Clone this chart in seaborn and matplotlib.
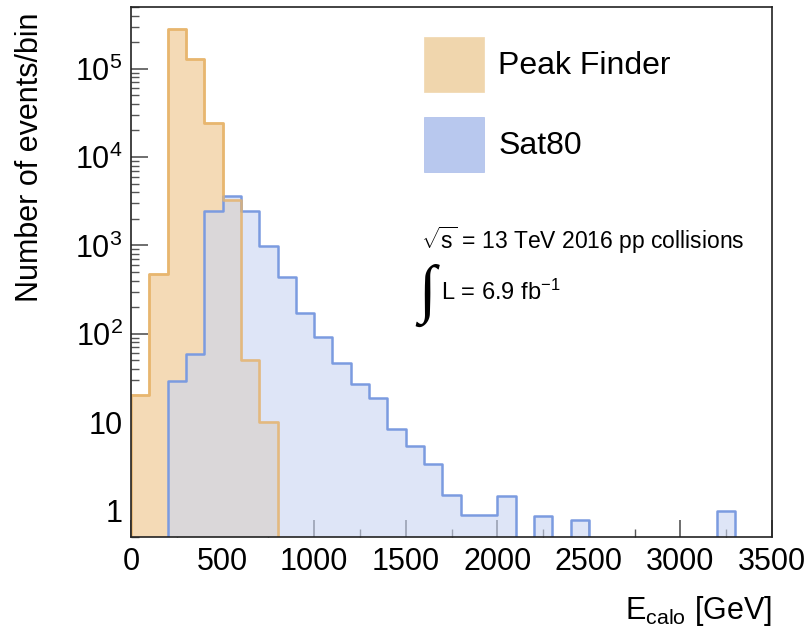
import numpy as np
import pandas as pd
import matplotlib
matplotlib.use("Agg")
import matplotlib.pyplot as plt
from matplotlib.ticker import FixedLocator, FuncFormatter, MultipleLocator
from matplotlib.patches import Patch
import seaborn as sns

# ---- data (events per 100 GeV bin) ----
bin_edges = list(range(0, 3600, 100))
peak_finder = [20, 470, 2.8e5, 1.3e5, 2.4e4, 3300, 50, 10, 0, 0,
               0, 0, 0, 0, 0, 0, 0, 0, 0, 0,
               0, 0, 0, 0, 0, 0, 0, 0, 0, 0,
               0, 0, 0, 0, 0]
sat80 = [0, 0, 29, 59, 2470, 3580, 2450, 980, 440, 170,
         92, 46.5, 27, 18.6, 8.3, 5.3, 3.35, 1.5, 0.88, 0.88,
         1.46, 0, 0.87, 0, 0.78, 0, 0, 0, 0, 0,
         0, 0, 0.99, 0, 0]
series_labels = ["Peak Finder", "Sat80"]
x_ticks = [0, 500, 1000, 1500, 2000, 2500, 3000, 3500]
y_ticks = [1, 10, 100, 1000, 1e4, 1e5]

sns.set_theme(style="white")
plt.rcParams["font.family"] = ["Liberation Sans", "DejaVu Sans"]
plt.rcParams["mathtext.fontset"] = "custom"
plt.rcParams["mathtext.rm"] = "Liberation Sans"
plt.rcParams["mathtext.it"] = "Liberation Sans:italic"
plt.rcParams["mathtext.bf"] = "Liberation Sans:bold"
plt.rcParams["text.color"] = "black"
plt.rcParams["axes.labelcolor"] = "black"

orange_face = "#f4dab6"
orange_edge = "#e8b66f"
blue_face = "#c9d5f2"
blue_edge = "#7b9be0"

fig = plt.figure(figsize=(8.11, 6.39), dpi=100)
ax = fig.add_axes([131 / 811, 1 - 537 / 639, 641 / 811, 530 / 639])

centers = [e + 50 for e in bin_edges[:-1]]
df_pf = pd.DataFrame({"E": centers, "w": peak_finder})
df_sat = pd.DataFrame({"E": centers, "w": sat80})

sns.histplot(data=df_pf, x="E", weights="w", bins=bin_edges, element="step",
             fill=True, facecolor=orange_face, edgecolor=orange_edge,
             linewidth=1.8, alpha=1, ax=ax, zorder=2)
sns.histplot(data=df_sat, x="E", weights="w", bins=bin_edges, element="step",
             fill=True, facecolor=blue_face + "99", edgecolor=blue_edge,
             linewidth=1.8, ax=ax, zorder=3)
# orange outline redrawn so it shows through the blue fill
sns.histplot(data=df_pf, x="E", weights="w", bins=bin_edges, element="step",
             fill=False, color=orange_edge, linewidth=1.8, alpha=0.8,
             ax=ax, zorder=3.5)

ax.set_yscale("log")
ax.set_xlim(0, 3500)
ax.set_ylim(0.5, 5e5)
ax.set_xlabel("")
ax.set_ylabel("")

ax.xaxis.set_major_locator(FixedLocator(x_ticks))
ax.xaxis.set_minor_locator(MultipleLocator(250))
ax.yaxis.set_major_locator(FixedLocator(y_ticks))
minors = [m * 10 ** e for e in range(-1, 6) for m in range(2, 10)]
ax.yaxis.set_minor_locator(FixedLocator(minors))


def yfmt(v, pos):
    if v == 1:
        return "1"
    if v == 10:
        return "10"
    return r"$10^{%d}$" % int(round(np.log10(v)))


ax.yaxis.set_major_formatter(FuncFormatter(yfmt))
ax.yaxis.set_minor_formatter(FuncFormatter(lambda v, p: ""))

ax.tick_params(axis="both", which="major", direction="in", length=12,
               width=1.2, labelsize=22, colors="#555555", labelcolor="black")
ax.tick_params(axis="both", which="minor", direction="in", length=6,
               width=1.0, colors="#555555")
ax.tick_params(axis="x", pad=7, bottom=True, top=False)
ax.tick_params(axis="y", pad=6, left=True, right=False)
ax.tick_params(axis="x", which="minor", bottom=True, top=False)
ax.tick_params(axis="y", which="minor", left=True, right=False)

for s in ax.spines.values():
    s.set_color("#222222")
    s.set_linewidth(1.2)
    s.set_zorder(5)

ax.set_ylabel("Number of events/bin", fontsize=22, loc="top", color="black")
ax.yaxis.set_label_coords(-0.134, 0.99)
ax.set_xlabel(r"E$_{\mathrm{calo}}$ [GeV]", fontsize=22, loc="right",
              color="black")
ax.xaxis.set_label_coords(1.0, -0.107)

ax.text(0.452, 0.560, r"$\sqrt{\mathrm{s}}$ = 13 TeV 2016 pp collisions",
        transform=ax.transAxes, fontsize=16.5, ha="left", va="center",
        color="black")
ax.text(0.462, 0.455, "\u222b", transform=ax.transAxes, fontsize=46,
        ha="center", va="center",
        family=["Liberation Serif", "DejaVu Sans"], color="black")
ax.text(0.484, 0.462, r"L = 6.9 fb$^{\mathregular{-1}}$",
        transform=ax.transAxes, fontsize=17, ha="left", va="center",
        color="black")

handles = [Patch(facecolor="#f0d6ad", edgecolor="#f0d6ad", linewidth=0.5),
           Patch(facecolor="#b8c8ee", edgecolor="#a9bcea", linewidth=0.5)]
leg = ax.legend(handles, series_labels, loc="upper left",
                bbox_to_anchor=(0.457, 0.944), frameon=False, fontsize=23,
                handlelength=1.87, handleheight=2.27, handletextpad=0.45,
                labelspacing=0.78, borderpad=0, borderaxespad=0)
for t in leg.get_texts():
    t.set_color("black")

fig.savefig("out.png", dpi=100)
